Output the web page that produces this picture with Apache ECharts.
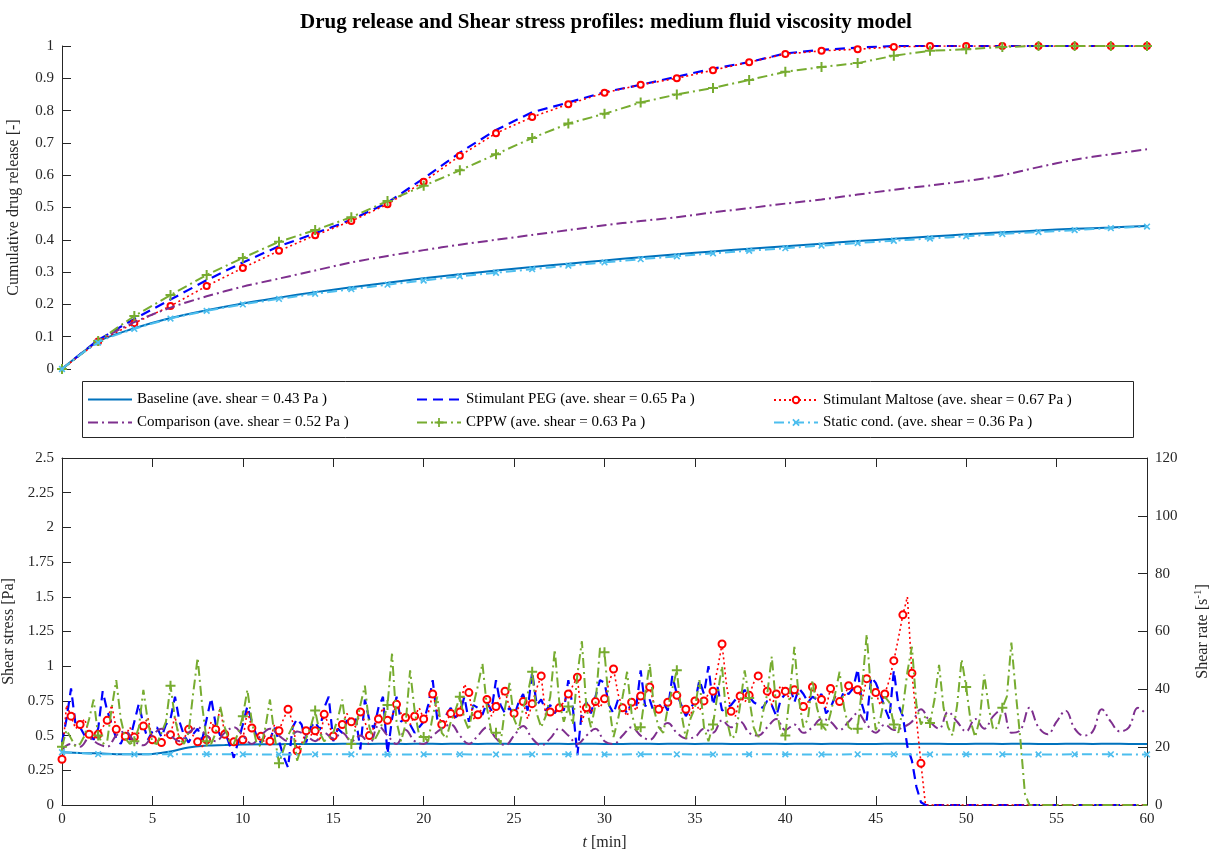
<!DOCTYPE html>
<html>
<head>
<meta charset="utf-8">
<script src="https://cdn.jsdelivr.net/npm/echarts@6/dist/echarts.min.js"></script>
<style>
  html, body { margin: 0; padding: 0; background: #fff; }
  #chart { width: 1212px; height: 853px; }
</style>
</head>
<body>
<div id="chart"></div>
<script>
// series names
var names = [
  'Baseline (ave. shear = 0.43 Pa )',
  'Stimulant PEG (ave. shear = 0.65 Pa )',
  'Stimulant Maltose (ave. shear = 0.67 Pa )',
  'Comparison (ave. shear = 0.52 Pa )',
  'CPPW (ave. shear = 0.63 Pa )',
  'Static cond. (ave. shear = 0.36 Pa )'
]

// ---- top panel: cumulative release, one value every 2 min ----
var relBaseline = [0, 0.085, 0.126, 0.158, 0.182, 0.203, 0.221, 0.238, 0.253, 0.267, 0.281, 0.293, 0.305, 0.316, 0.326, 0.336,
  0.346, 0.355, 0.364, 0.372, 0.38, 0.388, 0.396, 0.403, 0.41, 0.417, 0.423, 0.429, 0.434, 0.438, 0.443]
var relPEG = [0, 0.09, 0.155, 0.215, 0.275, 0.33, 0.38, 0.42, 0.462, 0.515, 0.59, 0.67, 0.74, 0.795, 0.825, 0.857,
  0.88, 0.905, 0.93, 0.95, 0.977, 0.988, 0.995, 1, 1, 1, 1, 1, 1, 1, 1]
var relMaltose = [0, 0.085, 0.142, 0.195, 0.257, 0.313, 0.366, 0.414, 0.458, 0.51, 0.58, 0.66, 0.73, 0.78, 0.82, 0.855,
  0.88, 0.9, 0.925, 0.95, 0.975, 0.985, 0.99, 0.997, 1, 1, 1, 1, 1, 1, 1]
var relComparison = [0, 0.085, 0.145, 0.19, 0.225, 0.255, 0.28, 0.305, 0.33, 0.35, 0.368, 0.385, 0.4, 0.415, 0.43, 0.445,
  0.458, 0.47, 0.485, 0.498, 0.512, 0.525, 0.54, 0.555, 0.568, 0.582, 0.6, 0.625, 0.648, 0.665, 0.68]
var relCPPW = [0, 0.087, 0.164, 0.229, 0.291, 0.344, 0.394, 0.43, 0.47, 0.52, 0.567, 0.615, 0.665, 0.715, 0.76, 0.79,
  0.825, 0.85, 0.87, 0.895, 0.92, 0.935, 0.947, 0.97, 0.985, 0.99, 0.997, 1, 1, 1, 1]
var relStatic = [0, 0.082, 0.124, 0.156, 0.18, 0.2, 0.217, 0.233, 0.247, 0.261, 0.274, 0.287, 0.298, 0.309, 0.32, 0.33,
  0.34, 0.349, 0.358, 0.366, 0.374, 0.382, 0.39, 0.397, 0.404, 0.411, 0.418, 0.424, 0.43, 0.436, 0.441]

// ---- bottom panel: shear stress [Pa] ----
// baseline: every 1 min
var shBaseline = [
  0.38, 0.375, 0.372, 0.366, 0.365, 0.368, 0.385, 0.415, 0.428, 0.432,
  0.436, 0.438, 0.438, 0.44, 0.44, 0.44, 0.442, 0.44, 0.442, 0.44,
  0.442, 0.44, 0.442, 0.44, 0.442, 0.44, 0.44, 0.442, 0.44, 0.442,
  0.44, 0.44, 0.442, 0.44, 0.442, 0.44, 0.442, 0.44, 0.44, 0.442,
  0.44, 0.442, 0.44, 0.442, 0.44, 0.44, 0.442, 0.44, 0.442, 0.44,
  0.44, 0.442, 0.44, 0.442, 0.44, 0.44, 0.442, 0.44, 0.442, 0.44,
  0.44]
// PEG: every 0.25 min, one row per minute
var shPEG = [
  0.45, 0.62, 0.84, 0.58,  0.56, 0.50, 0.52, 0.47,  0.55, 0.82, 0.68, 0.58,  0.48, 0.44, 0.52, 0.47,
  0.60, 0.73, 0.58, 0.47,  0.53, 0.56, 0.49, 0.58,  0.62, 0.78, 0.60, 0.50,  0.45, 0.51, 0.55, 0.47,
  0.62, 0.77, 0.58, 0.50,  0.53, 0.44, 0.34, 0.46,  0.58, 0.71, 0.60, 0.50,  0.45, 0.51, 0.47, 0.56,
  0.46, 0.35, 0.27, 0.56,  0.62, 0.58, 0.45, 0.56,  0.60, 0.54, 0.70, 0.78,  0.46, 0.55, 0.52, 0.61,
  0.58, 0.62, 0.40, 0.76,  0.61, 0.55, 0.70, 0.78,  0.37, 0.62, 0.78, 0.60,  0.63, 0.58, 0.52, 0.56,
  0.60, 0.72, 0.90, 0.62,  0.56, 0.65, 0.70, 0.63,  0.66, 0.78, 0.60, 0.72,  0.70, 0.65, 0.74, 0.68,
  0.90, 0.72, 0.66, 0.70,  0.64, 0.74, 0.80, 0.68,  0.96, 0.72, 0.76, 0.68,  0.72, 0.66, 0.74, 0.68,
  0.90, 0.70, 0.36, 0.68,  0.74, 0.66, 0.78, 0.90,  0.88, 0.72, 0.66, 0.76,  0.72, 0.66, 0.74, 0.70,
  0.97, 0.71, 0.76, 0.66,  0.71, 0.74, 0.68, 0.93,  0.80, 0.72, 0.64, 0.70,  0.74, 0.90, 0.80, 1.00,
  0.72, 0.85, 0.68, 0.70,  0.72, 0.76, 0.78, 0.83,  0.78, 0.74, 0.72, 0.70,  0.75, 0.72, 0.64, 0.76,
  0.80, 0.86, 0.74, 0.84,  0.80, 0.74, 0.78, 0.76,  0.80, 0.66, 0.70, 0.78,  0.74, 0.82, 0.80, 0.84,
  0.98, 0.72, 0.61, 0.92,  0.88, 0.80, 0.70, 0.62,  0.97, 0.72, 0.64, 0.42,  0.32, 0.13, 0.02, 0,
  0, 0, 0, 0,  0, 0, 0, 0,  0, 0, 0, 0,  0, 0, 0, 0,
  0, 0, 0, 0,  0, 0, 0, 0,  0, 0, 0, 0,  0, 0, 0, 0,
  0, 0, 0, 0,  0, 0, 0, 0,  0, 0, 0, 0,  0, 0, 0, 0,
  0]
// Maltose: every 0.25 min
var shMaltose = [
  0.33, 0.72, 0.64, 0.55,  0.58, 0.62, 0.51, 0.48,  0.51, 0.56, 0.61, 0.72,  0.545, 0.52, 0.495, 0.56,
  0.49, 0.52, 0.57, 0.63,  0.47, 0.44, 0.45, 0.52,  0.507, 0.64, 0.46, 0.48,  0.545, 0.50, 0.455, 0.42,
  0.47, 0.60, 0.545, 0.70,  0.51, 0.47, 0.455, 0.43,  0.47, 0.68, 0.555, 0.50,  0.495, 0.44, 0.46, 0.58,
  0.535, 0.62, 0.69, 0.60,  0.39, 0.44, 0.535, 0.50,  0.535, 0.46, 0.653, 0.58,  0.497, 0.55, 0.58, 0.66,
  0.60, 0.56, 0.67, 0.60,  0.50, 0.56, 0.62, 0.70,  0.61, 0.64, 0.725, 0.66,  0.63, 0.58, 0.64, 0.70,
  0.62, 0.66, 0.80, 0.68,  0.58, 0.60, 0.66, 0.62,  0.67, 0.87, 0.81, 0.62,  0.65, 0.70, 0.76, 0.64,
  0.71, 0.78, 0.82, 0.70,  0.66, 0.70, 0.745, 0.62,  0.73, 0.84, 0.93, 0.64,  0.67, 0.66, 0.70, 0.74,
  0.80, 0.86, 0.92, 0.60,  0.70, 0.66, 0.745, 0.70,  0.765, 0.88, 0.98, 0.80,  0.70, 0.64, 0.74, 0.68,
  0.785, 0.80, 0.85, 0.72,  0.69, 0.70, 0.74, 0.80,  0.79, 0.72, 0.69, 0.64,  0.75, 0.68, 0.75, 0.80,
  0.82, 0.98, 1.16, 0.86,  0.675, 0.64, 0.785, 0.74,  0.79, 0.88, 0.93, 0.88,  0.82, 0.72, 0.80, 0.86,
  0.82, 0.76, 0.83, 0.78,  0.71, 0.74, 0.85, 0.80,  0.76, 0.70, 0.84, 0.78,  0.745, 0.78, 0.86, 0.84,
  0.83, 0.76, 0.91, 0.86,  0.81, 0.72, 0.80, 0.90,  1.04, 1.20, 1.37, 1.50,  0.95, 0.62, 0.30, 0,
  0, 0, 0, 0,  0, 0, 0, 0,  0, 0, 0, 0,  0, 0, 0, 0,
  0, 0, 0, 0,  0, 0, 0, 0,  0, 0, 0, 0,  0, 0, 0, 0,
  0, 0, 0, 0,  0, 0, 0, 0,  0, 0, 0, 0,  0, 0, 0, 0,
  0]
// Comparison: every 0.5 min
var shComparison = [
  0.40, 0.44, 0.42, 0.48, 0.44, 0.42, 0.50, 0.53, 0.46, 0.43,
  0.50, 0.55, 0.50, 0.46, 0.52, 0.56, 0.50, 0.46, 0.52, 0.56,
  0.50, 0.44, 0.50, 0.55, 0.50, 0.46, 0.53, 0.50, 0.46, 0.52,
  0.48, 0.52, 0.46, 0.50, 0.44, 0.57, 0.50, 0.44, 0.54, 0.46,
  0.44, 0.50, 0.55, 0.58, 0.50, 0.44, 0.50, 0.56, 0.48, 0.43,
  0.50, 0.57, 0.48, 0.43, 0.48, 0.55, 0.50, 0.44, 0.50, 0.55,
  0.46, 0.44, 0.50, 0.56, 0.50, 0.47, 0.54, 0.59, 0.52, 0.48,
  0.49, 0.55, 0.52, 0.61, 0.56, 0.60, 0.52, 0.50, 0.56, 0.62,
  0.54, 0.58, 0.52, 0.56, 0.62, 0.60, 0.54, 0.60, 0.66, 0.58,
  0.52, 0.58, 0.54, 0.56, 0.60, 0.69, 0.60, 0.55, 0.67, 0.60,
  0.53, 0.62, 0.55, 0.64, 0.69, 0.52, 0.54, 0.70, 0.56, 0.51,
  0.60, 0.68, 0.55, 0.50, 0.53, 0.69, 0.60, 0.53, 0.56, 0.70,
  0.65]
// CPPW: every 0.25 min
var shCPPW = [
  0.42, 0.54, 0.48, 0.42,  0.44, 0.50, 0.62, 0.76,  0.50, 0.44, 0.46, 0.70,  0.90, 0.62, 0.48, 0.44,
  0.46, 0.56, 0.83, 0.60,  0.45, 0.44, 0.52, 0.60,  0.86, 0.62, 0.48, 0.44,  0.52, 0.80, 1.06, 0.72,
  0.46, 0.44, 0.52, 0.71,  0.56, 0.46, 0.44, 0.52,  0.64, 0.83, 0.60, 0.45,  0.42, 0.56, 0.76, 0.50,
  0.30, 0.40, 0.50, 0.565, 0.32, 0.42, 0.48, 0.56,  0.68, 0.52, 0.46, 0.48,  0.52, 0.62, 0.76, 0.50,
  0.44, 0.56, 0.72, 0.86,  0.56, 0.46, 0.52, 0.60,  0.72, 1.09, 0.60, 0.46,  0.58, 0.97, 0.68, 0.50,
  0.49, 0.46, 0.64, 0.78,  0.52, 0.48, 0.60, 0.68,  0.78, 0.62, 0.54, 0.72,  0.86, 1.02, 0.70, 0.52,
  0.52, 0.44, 0.70, 0.88,  0.62, 0.54, 0.70, 0.80,  0.96, 0.66, 0.56, 0.64,  0.78, 1.12, 0.74, 0.60,
  0.71, 0.58, 0.94, 1.18,  0.70, 0.56, 0.72, 1.13,  1.10, 0.72, 0.49, 0.62,  0.78, 0.96, 0.66, 0.54,
  0.56, 0.80, 1.02, 0.68,  0.56, 0.52, 0.70, 0.84,  0.97, 0.66, 0.48, 0.62,  0.70, 0.90, 0.56, 0.46,
  0.58, 0.80, 1.00, 0.62,  0.48, 0.50, 0.72, 0.97,  0.77, 0.56, 0.48, 0.66,  0.80, 1.07, 0.70, 0.52,
  0.50, 0.80, 1.14, 0.76,  0.56, 0.62, 0.90, 0.70,  0.58, 0.54, 0.66, 0.80,  0.96, 0.70, 0.56, 0.54,
  0.55, 0.86, 1.23, 0.80,  0.54, 0.62, 0.78, 0.74,  0.58, 0.52, 0.70, 0.96,  1.14, 0.72, 0.58, 0.64,
  0.59, 0.76, 1.01, 0.70,  0.56, 0.50, 0.72, 1.05,  0.85, 0.60, 0.49, 0.62,  0.94, 0.70, 0.54, 0.56,
  0.70, 0.78, 1.17, 0.80,  0.47, 0.08, 0, 0,
  0, 0, 0, 0,  0, 0, 0, 0,  0, 0, 0, 0,  0, 0, 0, 0,
  0, 0, 0, 0,  0, 0, 0, 0,
  0]
// Static: every 2 min
var shStatic = [0.38, 0.366, 0.365, 0.365, 0.366, 0.365, 0.364, 0.365, 0.365, 0.364, 0.365, 0.365, 0.364, 0.365, 0.365, 0.364,
  0.365, 0.365, 0.364, 0.365, 0.365, 0.364, 0.365, 0.365, 0.364, 0.365, 0.365, 0.364, 0.365, 0.365, 0.364]

var colors = ['#0072BD', '#0000FF', '#FF0000', '#7E2F8E', '#77AC30', '#4DBEEE']
var axisColor = '#262626'
var font = 'Liberation Serif'
var plusPath = 'path://M4,0H6V4H10V6H6V10H4V6H0V4H4Z'

function pairs(step, arr) {
  return arr.map(function (v, i) { return [i * step, v] })
}
// marker only on every n-th sample, and not on the flat zero tail
function everyNth(n, sym) {
  return function (value, params) {
    return params.dataIndex % n === 0 && value[1] > 0 ? sym : 'none'
  }
}

var chart = echarts.init(document.getElementById('chart'))

function lineSeries(idx, name, data, grid, extra) {
  var s = {
    type: 'line',
    name: name,
    data: data,
    xAxisIndex: grid === 0 ? 0 : 1,
    yAxisIndex: grid === 0 ? 0 : 1,
    symbol: 'none',
    color: colors[idx],
    lineStyle: { width: 2, color: colors[idx] },
    emphasis: { disabled: true },
    z: 2 + idx
  }
  for (var k in extra) s[k] = extra[k]
  return s
}

var styles = [
  {},
  { lineStyle: { width: 2.2, color: colors[1], type: [10, 6] } },
  { lineStyle: { width: 1.6, color: colors[2], type: [2, 3] }, symbolSize: 7,
    itemStyle: { color: colors[2], borderWidth: 2 } },
  { lineStyle: { width: 2, color: colors[3], type: [10, 4, 2, 4] } },
  { lineStyle: { width: 2, color: colors[4], type: [10, 4, 2, 4] }, symbolSize: 10,
    itemStyle: { color: colors[4] } },
  { lineStyle: { width: 2, color: colors[5], type: [10, 4, 2, 4] }, symbolSize: 8, symbolRotate: 45,
    itemStyle: { color: colors[5] } }
]
function styled(i, extra) {
  var o = {}
  for (var k in styles[i]) o[k] = styles[i][k]
  for (var k2 in extra) o[k2] = extra[k2]
  return o
}

var series = [
  lineSeries(0, names[0], pairs(2, relBaseline), 0, styled(0, { smooth: 0.3 })),
  lineSeries(1, names[1], pairs(2, relPEG), 0, styled(1, {})),
  lineSeries(2, names[2], pairs(2, relMaltose), 0, styled(2, { symbol: everyNth(1, 'emptyCircle'), symbolSize: 6 })),
  lineSeries(3, names[3], pairs(2, relComparison), 0, styled(3, { smooth: 0.3 })),
  lineSeries(4, names[4], pairs(2, relCPPW), 0, styled(4, { symbol: plusPath })),
  lineSeries(5, names[5], pairs(2, relStatic), 0, styled(5, { symbol: plusPath, smooth: 0.3 })),

  lineSeries(0, names[0], pairs(1, shBaseline), 1, styled(0, { smooth: 0.4 })),
  lineSeries(1, names[1], pairs(0.25, shPEG), 1, styled(1, {})),
  lineSeries(2, names[2], pairs(0.25, shMaltose), 1, styled(2, { symbol: everyNth(2, 'emptyCircle') })),
  lineSeries(3, names[3], pairs(0.5, shComparison), 1, styled(3, { smooth: 0.4 })),
  lineSeries(4, names[4], pairs(0.25, shCPPW), 1, styled(4, { symbol: everyNth(8, plusPath) })),
  lineSeries(5, names[5], pairs(2, shStatic), 1, styled(5, { symbol: plusPath }))
]

var legendPos = [[87, 392], [416, 392], [773, 392], [87, 415], [416, 415], [773, 415]]
var lineOnly = [true, true, false, true, false, false]
var legends = names.map(function (n, i) {
  var lg = {
    data: [n],
    left: legendPos[i][0],
    top: legendPos[i][1],
    itemWidth: 44,
    itemHeight: 14,
    padding: 0,
    selectedMode: false,
    z: 10,
    textStyle: { fontFamily: font, fontSize: 15, color: '#000' }
  }
  if (lineOnly[i]) lg.itemStyle = { opacity: 0 }
  if (i === 2) {
    lg.itemStyle = { color: '#fff', borderColor: colors[2], borderWidth: 2 }
    lg.itemHeight = 8
    lg.top = legendPos[i][1] + 0.5
  }
  if (i === 4 || i === 5) lg.itemHeight = 11
  return lg
})

chart.setOption({
  animation: false,
  backgroundColor: '#fff',
  title: {
    text: 'Drug release and Shear stress profiles: medium fluid viscosity model',
    left: 'center',
    top: 7,
    textStyle: { fontFamily: font, fontSize: 21, fontWeight: 'bold', color: '#000' }
  },
  legend: legends,
  graphic: [{
    type: 'rect',
    silent: true,
    z: 1,
    shape: { x: 82.5, y: 381.5, width: 1051, height: 56 },
    style: { fill: '#fff', stroke: axisColor, lineWidth: 1 }
  }],
  grid: [
    { left: 62, right: 65, top: 46, height: 323, outerBoundsMode: 'none', containLabel: false },
    { left: 62, right: 65, top: 458, height: 347, outerBoundsMode: 'none', containLabel: false }
  ],
  xAxis: [
    { type: 'value', gridIndex: 0, min: 0, max: 60, show: false },
    {
      type: 'value', gridIndex: 1, min: 0, max: 60, interval: 5, position: 'bottom',
      axisLine: { onZero: false, lineStyle: { color: axisColor } },
      axisTick: { inside: true, length: 9, lineStyle: { color: axisColor } },
      axisLabel: { margin: 7, fontFamily: font, fontSize: 15, color: axisColor },
      splitLine: { show: false },
      name: '{it|t} [min]', nameLocation: 'middle', nameGap: 30,
      nameTextStyle: { fontFamily: font, fontSize: 16, color: axisColor,
        rich: { it: { fontFamily: font, fontSize: 16, fontStyle: 'italic', color: axisColor } } }
    },
    {
      type: 'value', gridIndex: 1, min: 0, max: 60, interval: 5, position: 'top',
      axisLine: { onZero: false, lineStyle: { color: axisColor } },
      axisTick: { inside: true, length: 9, lineStyle: { color: axisColor } },
      axisLabel: { show: false },
      splitLine: { show: false }
    }
  ],
  yAxis: [
    {
      type: 'value', gridIndex: 0, min: 0, max: 1, interval: 0.1,
      axisLine: { show: true, lineStyle: { color: axisColor } },
      axisTick: { show: true, inside: true, length: 9, lineStyle: { color: axisColor } },
      axisLabel: { margin: 8, fontFamily: font, fontSize: 15, color: axisColor },
      splitLine: { show: false },
      name: 'Cumulative drug release [-]', nameLocation: 'middle', nameGap: 40, nameRotate: 90,
      nameTextStyle: { fontFamily: font, fontSize: 16, color: axisColor }
    },
    {
      type: 'value', gridIndex: 1, min: 0, max: 2.5, interval: 0.25, position: 'left',
      axisLine: { show: true, onZero: false, lineStyle: { color: axisColor } },
      axisTick: { show: true, inside: true, length: 9, lineStyle: { color: axisColor } },
      axisLabel: { margin: 8, fontFamily: font, fontSize: 15, color: axisColor },
      splitLine: { show: false },
      name: 'Shear stress [Pa]', nameLocation: 'middle', nameGap: 44, nameRotate: 90,
      nameTextStyle: { fontFamily: font, fontSize: 16, color: axisColor }
    },
    {
      type: 'value', gridIndex: 1, min: 0, max: 120, interval: 20, position: 'right',
      axisLine: { show: true, onZero: false, lineStyle: { color: axisColor } },
      axisTick: { show: true, inside: true, length: 9, lineStyle: { color: axisColor } },
      axisLabel: { margin: 8, fontFamily: font, fontSize: 15, color: axisColor },
      splitLine: { show: false },
      name: 'Shear rate [s{sup|-1}]', nameLocation: 'middle', nameGap: 46, nameRotate: 90,
      nameTextStyle: { fontFamily: font, fontSize: 16, color: axisColor,
        rich: { sup: { fontFamily: font, fontSize: 11, color: axisColor, verticalAlign: 'top', padding: [0, 0, 8, 0] } } }
    }
  ],
  series: series
})
</script>
</body>
</html>
